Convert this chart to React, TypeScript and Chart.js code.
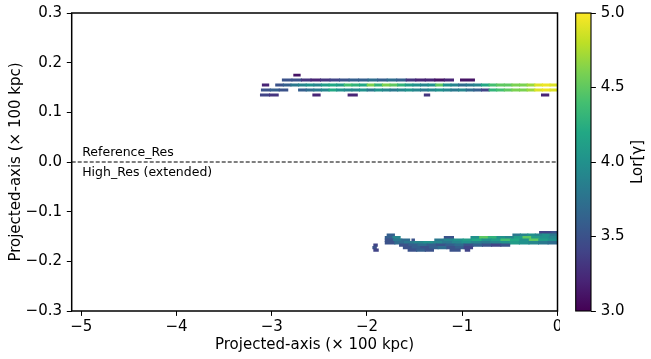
import React, { useEffect, useRef } from 'react';
import { Chart, registerables } from 'chart.js';
Chart.register(...registerables);

// ---------- data ----------
const xTicks = [-5, -4, -3, -2, -1, 0];
const yTicks = [-0.3, -0.2, -0.1, 0, 0.1, 0.2, 0.3];
const cbTicks = [3, 3.5, 4, 4.5, 5];
const xRange = [-5.1, 0];
const yRange = [-0.3, 0.3];
const cbRange = [3, 5];
const refLine = [{ x: -5.1, y: 0 }, { x: 0, y: 0 }];
const annotations = ['Reference_Res', 'High_Res (extended)'];
const xTitle = 'Projected-axis (× 100 kpc)';
const yTitle = 'Projected-axis (× 100 kpc)';
const cbTitle = 'Lor[γ]';

type Seg = [number, number, number[]];

const upperRows = [0.175, 0.165, 0.155, 0.145, 0.135];
const upperSegs: Seg[][] = [
  [[-2.77, -2.70, [3.1]]],
  [
    [-2.89, -1.09, [3.5, 3.5, 3.3, 3.2, 3.3, 3.4, 3.5, 3.6, 3.6, 3.7, 3.6, 3.7, 3.6, 3.3, 3.2, 3.2, 3.1, 3.2]],
    [-1.02, -0.87, [3.1]],
  ],
  [
    [-3.10, -3.03, [3.2]],
    [-2.96, 0, [3.5, 3.6, 3.8, 3.9, 4.0, 3.9, 4.1, 4.2, 4.1, 4.4, 4.3, 4.2, 4.6, 4.3, 4.6, 4.5, 4.3, 4.1, 4.0, 3.9,
      4.0, 4.5, 4.0, 3.9, 3.7, 3.8, 3.9, 4.2, 4.4, 4.5, 4.5, 4.6, 4.6, 4.7, 4.9, 4.95, 4.9]],
  ],
  [
    [-3.11, -2.83, [3.5, 3.6, 3.5]],
    [-2.72, 0, [3.6, 3.7, 3.8, 3.9, 4.2, 4.0, 3.9, 3.9, 4.0, 3.8, 4.0, 3.9, 3.8, 3.9, 4.0, 3.9, 3.8, 3.9, 4.0, 3.9,
      3.8, 3.9, 3.7, 3.6, 3.4, 4.3, 4.4, 4.5, 4.6, 4.6, 4.7, 4.9, 4.95, 4.9]],
  ],
  [
    [-3.12, -2.93, [3.4, 3.3]],
    [-2.57, -2.49, [3.2]],
    [-2.20, -2.10, [3.2]],
    [-1.40, -1.34, [3.3]],
    [-0.17, -0.09, [3.2]],
  ],
];

const lowerRows = [-0.1425, -0.1475, -0.1525, -0.1575, -0.1625, -0.1675, -0.1725, -0.1775];
const lowerSegs: Seg[][] = [
  [[-0.19, 0, [3.4, 3.4, 3.5]]],
  [[-1.79, -1.71, [3.6]], [-0.47, 0, [3.8, 3.9, 4.0, 3.9, 4.0, 3.8]]],
  [
    [-1.81, -1.65, [3.6, 3.9]],
    [-1.19, -1.09, [3.5]],
    [-0.91, 0, [4.0, 4.5, 4.3, 4.0, 3.9, 4.1, 4.5, 4.1, 4.0, 3.9]],
  ],
  [
    [-1.81, -1.55, [3.5, 3.8, 3.7]],
    [-1.53, -1.50, [3.5]],
    [-1.29, 0, [3.8, 3.9, 4.0, 4.1, 4.2, 4.0, 4.1, 4.4, 4.2, 4.0, 4.5, 4.1, 4.0]],
  ],
  [[-1.81, 0, [3.5, 3.7, 3.8, 3.9, 4.0, 3.9, 3.8, 3.9, 4.0, 3.9, 3.8, 3.9, 4.0, 4.1, 4.0, 3.9, 3.8, 3.7]]],
  [[-1.93, -1.89, [3.4]], [-1.66, -0.5, [3.5, 3.6, 3.7, 3.6, 3.5, 3.6, 3.7, 3.5, 3.6, 3.5, 3.4, 3.5]]],
  [[-1.94, -1.90, [3.5]], [-1.62, -0.89, [3.5, 3.6, 3.5, 3.6, 3.7, 3.5, 3.6, 3.4]]],
  [[-1.93, -1.88, [3.4]], [-1.57, -1.30, [3.5, 3.6, 3.5]], [-1.13, -1.02, [3.5]], [-0.97, -0.92, [3.4]]],
];

// ---------- helpers ----------
const VIRIDIS = ['#440154', '#482475', '#414487', '#355f8d', '#2a788e', '#21918c', '#22a884', '#44bf70', '#7ad151', '#bddf26', '#fde725'];
function hex(h: string) {
  return [parseInt(h.slice(1, 3), 16), parseInt(h.slice(3, 5), 16), parseInt(h.slice(5, 7), 16)];
}
function viridis(t: number) {
  const c = Math.max(0, Math.min(1, t)) * (VIRIDIS.length - 1);
  const i = Math.min(VIRIDIS.length - 2, Math.floor(c));
  const f = c - i;
  const a = hex(VIRIDIS[i]);
  const b = hex(VIRIDIS[i + 1]);
  const m = a.map((v, k) => Math.round(v + (b[k] - v) * f));
  return `rgb(${m[0]},${m[1]},${m[2]})`;
}
function colorFor(v: number) {
  return viridis((v - cbRange[0]) / (cbRange[1] - cbRange[0]));
}
function fmt(v: number, d: number) {
  const s = Math.abs(v).toFixed(d);
  return (v < -1e-9 ? '−' : '') + s;
}
function buildCells(rows: number[], segs: Seg[][]) {
  const out: { x: [number, number]; y: number; v: number }[] = [];
  rows.forEach((y, r) => {
    segs[r].forEach(([x0, x1, vals]) => {
      const w = (x1 - x0) / vals.length;
      vals.forEach((v, i) => {
        const a = x0 + i * w;
        const b = Math.min(x1, a + w + 0.004);
        out.push({ x: [a, b], y, v });
      });
    });
  });
  return out;
}

const FONT = 'DejaVu Sans';
const tickFont = { family: FONT, size: 15 };
const TICK_LEN = 4.9;
const zeroPad = (s: any) => {
  s.paddingLeft = 0;
  s.paddingRight = 0;
  s.paddingTop = 0;
  s.paddingBottom = 0;
};

export default function App() {
  const mainRef = useRef<HTMLCanvasElement | null>(null);
  const cbRef = useRef<HTMLCanvasElement | null>(null);

  useEffect(() => {
    if (!mainRef.current || !cbRef.current) return;

    const framePlugin = {
      id: 'frame',
      afterDraw(chart: any) {
        const { ctx, chartArea: a } = chart;
        ctx.save();
        ctx.strokeStyle = '#000';
        ctx.lineWidth = 1.5;
        ctx.strokeRect(a.left, a.top, a.right - a.left, a.bottom - a.top);
        ctx.restore();
      },
    };
    const textPlugin = {
      id: 'annot',
      afterDatasetsDraw(chart: any) {
        const { ctx, scales } = chart;
        const x = scales.x.getPixelForValue(-5.0) + 1;
        ctx.save();
        ctx.fillStyle = '#000';
        ctx.font = `12.5px "${FONT}"`;
        ctx.textAlign = 'left';
        ctx.textBaseline = 'alphabetic';
        ctx.fillText(annotations[0], x, scales.y.getPixelForValue(0.012));
        ctx.fillText(annotations[1], x, scales.y.getPixelForValue(-0.028));
        ctx.restore();
      },
    };

    const main = new Chart(mainRef.current, {
      type: 'bar',
      data: {
        datasets: [
          {
            type: 'bar',
            data: buildCells(upperRows, upperSegs) as any,
            backgroundColor: (c: any) => colorFor(c.raw ? c.raw.v : 4),
            borderWidth: 0,
            barThickness: 2.2,
            grouped: false,
            xAxisID: 'x',
            yAxisID: 'y',
          } as any,
          {
            type: 'bar',
            data: buildCells(lowerRows, lowerSegs) as any,
            backgroundColor: (c: any) => colorFor(c.raw ? c.raw.v : 4),
            borderWidth: 0,
            barThickness: 2.7,
            grouped: false,
            xAxisID: 'x',
            yAxisID: 'y',
          } as any,
          {
            type: 'line',
            data: refLine as any,
            indexAxis: 'x',
            borderColor: '#000',
            borderWidth: 1.1,
            borderDash: [4, 2],
            pointRadius: 0,
            fill: false,
            xAxisID: 'x',
            yAxisID: 'y',
          } as any,
        ],
      },
      options: {
        animation: false,
        responsive: false,
        indexAxis: 'y',
        events: [],
        layout: { padding: { top: 13, right: 2.5, left: 0, bottom: 0 } },
        plugins: { legend: { display: false }, tooltip: { enabled: false } },
        scales: {
          x: {
            type: 'linear',
            position: 'bottom',
            min: xRange[0],
            max: xRange[1],
            offset: false,
            afterBuildTicks: (s: any) => { s.ticks = xTicks.map((value) => ({ value })); },
            afterFit: (s: any) => { s.height = 48; zeroPad(s); },
            ticks: { callback: (v: any) => fmt(Number(v), 0), font: tickFont, color: '#000', padding: 2, maxRotation: 0, autoSkip: false },
            grid: { drawOnChartArea: false, tickLength: TICK_LEN, color: '#000', tickColor: '#000', offset: false },
            border: { display: false },
            title: { display: true, text: xTitle, font: tickFont, color: '#000', padding: { top: 0, bottom: 5 } },
          },
          y: {
            type: 'linear',
            position: 'left',
            min: yRange[0],
            max: yRange[1],
            offset: false,
            afterBuildTicks: (s: any) => { s.ticks = yTicks.map((value) => ({ value })); },
            afterFit: (s: any) => { s.width = 71.7; zeroPad(s); },
            ticks: { callback: (v: any) => fmt(Number(v), 1), font: tickFont, color: '#000', padding: 4.8, autoSkip: false },
            grid: { drawOnChartArea: false, tickLength: TICK_LEN, color: '#000', tickColor: '#000', offset: false },
            border: { display: false },
            title: { display: true, text: yTitle, font: tickFont, color: '#000', padding: { top: 7, bottom: 0 } },
          },
        },
      } as any,
      plugins: [framePlugin, textPlugin],
    });

    const cbTitlePlugin = {
      id: 'cbtitle',
      afterDraw(chart: any) {
        const { ctx, chartArea: a } = chart;
        ctx.save();
        ctx.strokeStyle = '#000';
        ctx.lineWidth = 1.1;
        ctx.strokeRect(a.left, a.top, a.right - a.left, a.bottom - a.top);
        ctx.translate(78, (a.top + a.bottom) / 2);
        ctx.rotate(-Math.PI / 2);
        ctx.fillStyle = '#000';
        ctx.font = `15px "${FONT}"`;
        ctx.textAlign = 'center';
        ctx.textBaseline = 'middle';
        ctx.fillText(cbTitle, 0, 0);
        ctx.restore();
      },
    };

    const cb = new Chart(cbRef.current, {
      type: 'bar',
      data: {
        labels: ['cb'],
        datasets: [
          {
            data: [[cbRange[0], cbRange[1]]] as any,
            backgroundColor: (c: any) => {
              const a = c.chart.chartArea;
              if (!a) return viridis(0.5);
              const g = c.chart.ctx.createLinearGradient(0, a.bottom, 0, a.top);
              VIRIDIS.forEach((col, i) => g.addColorStop(i / (VIRIDIS.length - 1), col));
              return g;
            },
            borderWidth: 0,
            barPercentage: 1,
            categoryPercentage: 1,
          } as any,
        ],
      },
      options: {
        animation: false,
        responsive: false,
        events: [],
        layout: { padding: { left: 15.7, top: 13, bottom: 48, right: 0 } },
        plugins: { legend: { display: false }, tooltip: { enabled: false } },
        scales: {
          x: { display: false },
          y: {
            type: 'linear',
            position: 'right',
            min: cbRange[0],
            max: cbRange[1],
            afterBuildTicks: (s: any) => { s.ticks = cbTicks.map((value) => ({ value })); },
            afterFit: (s: any) => { s.width = 60; zeroPad(s); },
            ticks: { callback: (v: any) => fmt(Number(v), 1), font: tickFont, color: '#000', padding: 4.9, autoSkip: false },
            grid: { drawOnChartArea: false, tickLength: TICK_LEN, color: '#000', tickColor: '#000' },
            border: { display: false },
          },
        },
      } as any,
      plugins: [cbTitlePlugin],
    });

    return () => {
      main.destroy();
      cb.destroy();
    };
  }, []);

  return (
    <div style={{ position: 'fixed', left: 0, top: 0, width: 651, height: 359, background: '#fff' }}>
      <canvas ref={mainRef} width={560} height={359} style={{ position: 'absolute', left: 0, top: 0, display: 'block' }} />
      <canvas ref={cbRef} width={91} height={359} style={{ position: 'absolute', left: 560, top: 0, display: 'block' }} />
    </div>
  );
}
